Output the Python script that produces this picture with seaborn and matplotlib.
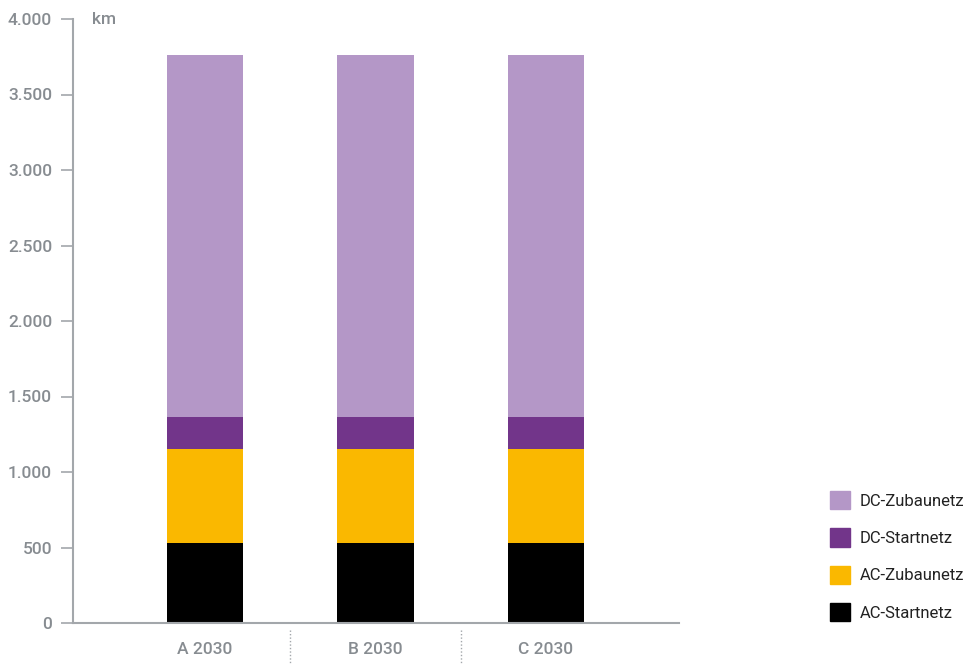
import numpy as np
import pandas as pd
import matplotlib
matplotlib.use("Agg")
import matplotlib.pyplot as plt
import seaborn as sns
from matplotlib.patches import Patch

# data (km)
szenarien = ["A 2030", "B 2030", "C 2030"]
ac_startnetz = [530, 530, 530]
ac_zubaunetz = [620, 620, 620]
dc_startnetz = [215, 215, 215]
dc_zubaunetz = [2395, 2395, 2395]

farben = {"AC-Startnetz": "#000000", "AC-Zubaunetz": "#fab800",
          "DC-Startnetz": "#72358a", "DC-Zubaunetz": "#b497c7"}
grau = "#878c91"

sns.set_style("white")
plt.rcParams['font.family'] = ['Roboto', 'DejaVu Sans']

df = pd.DataFrame({"szenario": szenarien,
                   "AC-Startnetz": ac_startnetz,
                   "AC-Zubaunetz": ac_zubaunetz,
                   "DC-Startnetz": dc_startnetz,
                   "DC-Zubaunetz": dc_zubaunetz})
reihen = ["AC-Startnetz", "AC-Zubaunetz", "DC-Startnetz", "DC-Zubaunetz"]
kum = df[reihen].cumsum(axis=1)

fig = plt.figure(figsize=(9.79, 6.64), dpi=100)
ax = fig.add_axes([73/979, 41/664, 606/979, 604/664])

# stacked by overplotting cumulative totals, biggest first
for r in reversed(reihen):
    sns.barplot(x=df["szenario"], y=kum[r], color=farben[r], width=0.446,
                saturation=1, ax=ax, linewidth=0)

ax.set_xlim(-0.774, 2.78)
ax.set_ylim(0, 4000)
ax.set_yticks(np.arange(0, 4001, 500))
ax.set_yticklabels([f"{v:,}".replace(",", ".") for v in range(0, 4001, 500)])
ax.set_xlabel("")
ax.set_ylabel("")

for s in ["top", "right"]:
    ax.spines[s].set_visible(False)
for s in ["left", "bottom"]:
    ax.spines[s].set_color("#a3a7ab")
    ax.spines[s].set_linewidth(1.5)

ax.tick_params(axis="y", left=True, length=9, width=1.2, color="#a3a7ab",
               labelsize=12.5, labelcolor=grau, pad=6)
ax.tick_params(axis="x", bottom=False, labelsize=12.5, labelcolor=grau, pad=10)
for lab in ax.get_xticklabels() + ax.get_yticklabels():
    lab.set_fontweight("medium")

# dotted separators between scenarios
for xs in [0.5, 1.5]:
    ax.plot([xs, xs], [-45, -265], ls=(0, (1, 1.5)), color="#a3a7ab", lw=1,
            clip_on=False)

ax.text(92/979, 645/664, "km", transform=fig.transFigure, fontsize=12.5,
        color=grau, va="center", ha="left", fontweight="medium")

handles = [Patch(color=farben[r], label=r) for r in reversed(reihen)]
leg = fig.legend(handles=handles, loc="upper left",
                 bbox_to_anchor=(815/979, 1 - 476/664),
                 frameon=False, fontsize=12, handlelength=1.2, handleheight=1.3,
                 labelspacing=1.15, handletextpad=0.6)
for t in leg.get_texts():
    t.set_color("#222222")

fig.savefig("out.png", dpi=100)
